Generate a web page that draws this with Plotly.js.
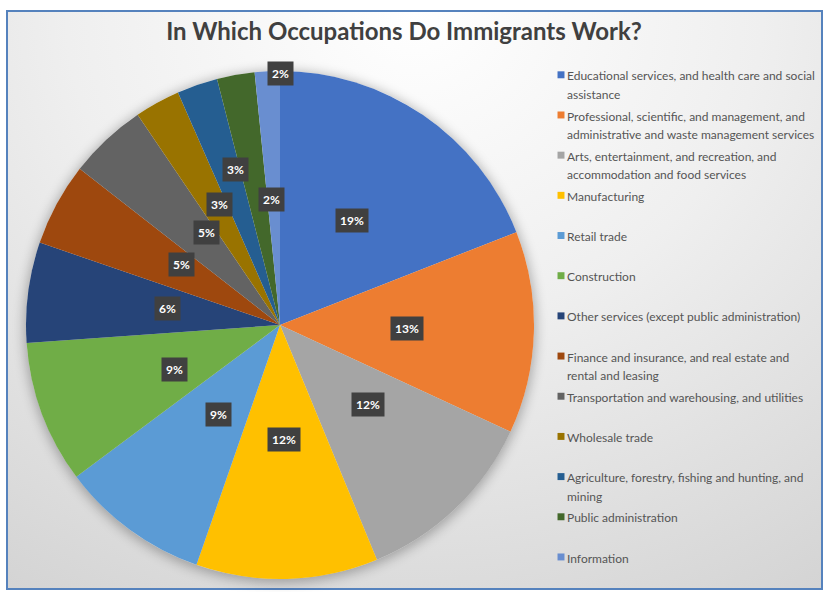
<!DOCTYPE html>
<html><head><meta charset="utf-8">
<script src="https://cdn.plot.ly/plotly-3.0.1.min.js"></script>
<style>
html,body{margin:0;padding:0;background:#ffffff;}
#wrap{position:relative;width:825px;height:592px;overflow:hidden;}
#frame{position:absolute;left:6px;top:10px;width:813px;height:576px;border:2px solid #5582bd;
  background:radial-gradient(ellipse 95% 120% at 50% 0%, #ffffff 0%, #efefef 45%, #d3d3d3 100%);}
#shadow{position:absolute;left:26px;top:71px;width:508px;height:508px;border-radius:50%;
  box-shadow:0px 2px 12px 2px rgba(0,0,0,0.28);}
#chart{position:absolute;left:0;top:0;width:825px;height:592px;}
path.legendpie{transform:translate(34px,0px) scale(0.58);}
</style></head>
<body><div id="wrap"><div id="frame"></div><div id="shadow"></div><div id="chart"></div></div>
<script>
// ---- data ----
const categories = [
  "Educational services, and health care and social assistance",
  "Professional, scientific, and management, and administrative and waste management services",
  "Arts, entertainment, and recreation, and accommodation and food services",
  "Manufacturing",
  "Retail trade",
  "Construction",
  "Other services (except public administration)",
  "Finance and insurance, and real estate and rental and leasing",
  "Transportation and warehousing, and utilities",
  "Wholesale trade",
  "Agriculture, forestry, fishing and hunting, and mining",
  "Public administration",
  "Information"
];
const values = [19.1, 12.9, 11.9, 11.6, 9.5, 9.1, 6.4, 5.3, 5.0, 2.9, 2.6, 2.4, 1.6];
const sliceColors = ["#4472C4","#ED7D31","#A5A5A5","#FFC000","#5B9BD5","#70AD47","#264478",
                     "#9E480E","#636363","#997300","#255E91","#43682B","#698ED0"];

// ---- layout geometry ----
const W = 825, H = 592;
const CX = 280, CY = 325, R = 254;
const FONT = "Lato, 'Open Sans', sans-serif";

function wrap(s, n){
  const words = s.split(' '); const lines = []; let cur = '';
  words.forEach(w => {
    if(cur && (cur + ' ' + w).length > n){ lines.push(cur); cur = w; }
    else cur = cur ? cur + ' ' + w : w;
  });
  if(cur) lines.push(cur);
  while(lines.length < 2) lines.push(' ');
  return lines.map(l => '<span style="font-size:12px">' + l + '</span>').join('<br>');
}
const legendLabels = categories.map(c => wrap(c, 48));

// percentage labels
const total = values.reduce((a,b)=>a+b,0);
const BOX_W = 38, BOX_H = 26;
let cum = 0; const placed = []; const annotations = [];
values.forEach((v) => {
  const p = v/total;
  const mid = (cum + p/2) * 2 * Math.PI;
  cum += p;
  let f = p < 0.02 ? 1.04 : 0.5, px, py;
  for(;;){
    px = CX + f*R*Math.sin(mid); py = CY - f*R*Math.cos(mid);
    const hit = placed.some(q => Math.abs(q[0]-px) < BOX_W && Math.abs(q[1]-py) < BOX_H);
    if(!hit || f > 1.1) break;
    f += 0.1;
  }
  placed.push([px,py]);
  annotations.push({
    x: px/W, y: 1 - py/H, xref:'paper', yref:'paper', showarrow:false,
    text: '<b>' + Math.round(p*100) + '%</b>',
    bgcolor:'#404040', borderpad:4,
    font:{family:FONT, size:12, color:'#ffffff'}
  });
});

const trace = {
  type:'pie', labels: legendLabels, values: values, sort:false, direction:'clockwise', rotation:0,
  marker:{colors: sliceColors, line:{width:0}},
  textinfo:'none', hoverinfo:'none',
  domain:{x:[(CX-R)/W, (CX+R)/W], y:[1-(CY+R)/H, 1-(CY-R)/H]}
};

const layout = {
  width: W, height: H,
  margin:{l:0,r:0,t:0,b:0},
  paper_bgcolor:'rgba(0,0,0,0)', plot_bgcolor:'rgba(0,0,0,0)',
  title:{text:'In Which Occupations Do Immigrants Work?', x:404/W, xanchor:'center', y:1-32/H, yanchor:'middle',
         font:{family:FONT, size:24, color:'#404040', weight:'bold'}},
  showlegend:true,
  legend:{x:527/W, xanchor:'left', y:1-61/H, yanchor:'top', valign:'top', bgcolor:'rgba(0,0,0,0)',
          font:{family:FONT, size:14.3, color:'#555555'}, traceorder:'normal'},
  annotations: annotations
};
Plotly.newPlot('chart', [trace], layout, {displayModeBar:false, staticPlot:true});
</script>
</body></html>
